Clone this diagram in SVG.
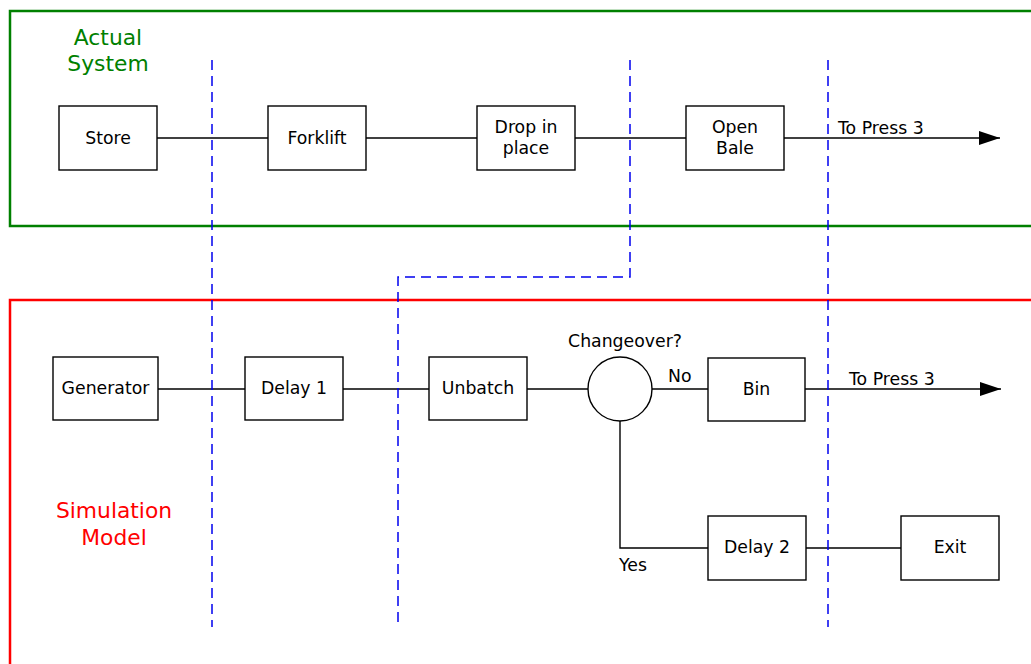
<svg xmlns="http://www.w3.org/2000/svg" width="1031" height="664" viewBox="0 0 1031 664">
<style>
.box{fill:#fff;stroke:#000;stroke-width:1.4}
.t{font-family:"DejaVu Sans",Verdana,sans-serif;font-size:17.3px;fill:#000;text-anchor:middle}
.l{font-family:"DejaVu Sans",Verdana,sans-serif;font-size:17.3px;fill:#000}
.c{stroke:#000;stroke-width:1.4;fill:none}
.d{stroke:#0000ee;stroke-width:1.5;fill:none;stroke-dasharray:10,6}
.big{font-family:"DejaVu Sans",Verdana,sans-serif;font-size:21.8px;text-anchor:middle}
</style>
<defs>
<marker id="ah" viewBox="0 0 21 14" refX="21" refY="7" markerWidth="21" markerHeight="14" markerUnits="userSpaceOnUse" orient="auto">
<path d="M0,0 L21,7 L0,14 z" fill="#000"/>
</marker>
</defs>
<rect width="1031" height="664" fill="#fff"/>
<g id="actual-system">
<rect x="10" y="11" width="1030" height="215" fill="none" stroke="#008000" stroke-width="2.5"/>
<text class="big" fill="#008000" x="108" y="45">Actual</text>
<text class="big" fill="#008000" x="108" y="71">System</text>
</g>
<g id="simulation-model">
<rect x="10" y="300" width="1030" height="380" fill="none" stroke="#ff0000" stroke-width="2.5"/>
<text class="big" fill="#ff0000" x="114" y="518">Simulation</text>
<text class="big" fill="#ff0000" x="114" y="545">Model</text>
</g>
<g id="connectors">
<line class="c" x1="157" y1="138" x2="268" y2="138"/>
<line class="c" x1="366" y1="138" x2="477" y2="138"/>
<line class="c" x1="575" y1="138" x2="686" y2="138"/>
<line class="c" x1="784" y1="138" x2="1000" y2="138" marker-end="url(#ah)"/>
<line class="c" x1="158" y1="389" x2="245" y2="389"/>
<line class="c" x1="343" y1="389" x2="429" y2="389"/>
<line class="c" x1="527" y1="389" x2="588" y2="389"/>
<line class="c" x1="652" y1="389" x2="708" y2="389"/>
<line class="c" x1="805" y1="389" x2="1001" y2="389" marker-end="url(#ah)"/>
<polyline class="c" points="620,421 620,548 708,548"/>
<line class="c" x1="806" y1="548" x2="901" y2="548"/>
<text class="l" x="838" y="134">To Press 3</text>
<text class="l" x="849" y="385">To Press 3</text>
<text class="l" x="668" y="382">No</text>
<text class="l" x="619" y="571">Yes</text>
</g>
<g id="dividers">
<line class="d" x1="212" y1="60" x2="212" y2="627"/>
<polyline class="d" points="630,60 630,277 398,277 398,627"/>
<line class="d" x1="828" y1="60" x2="828" y2="627"/>
</g>
<g id="store"><rect class="box" x="59" y="106" width="98" height="64"/><text class="t" x="108" y="144">Store</text></g>
<g id="forklift"><rect class="box" x="268" y="106" width="98" height="64"/><text class="t" x="317" y="144">Forklift</text></g>
<g id="drop-in-place"><rect class="box" x="477" y="106" width="98" height="64"/><text class="t" x="526" y="133">Drop in</text><text class="t" x="526" y="154">place</text></g>
<g id="open-bale"><rect class="box" x="686" y="106" width="98" height="64"/><text class="t" x="735" y="133">Open</text><text class="t" x="735" y="154">Bale</text></g>
<g id="generator"><rect class="box" x="53" y="357" width="105" height="63"/><text class="t" x="105.5" y="394">Generator</text></g>
<g id="delay1"><rect class="box" x="245" y="357" width="98" height="63"/><text class="t" x="294" y="394">Delay 1</text></g>
<g id="unbatch"><rect class="box" x="429" y="357" width="98" height="63"/><text class="t" x="478" y="394">Unbatch</text></g>
<g id="changeover"><circle class="box" cx="620" cy="389" r="32"/><text class="t" x="625" y="347">Changeover?</text></g>
<g id="bin"><rect class="box" x="708" y="358" width="97" height="63"/><text class="t" x="756.5" y="395">Bin</text></g>
<g id="delay2"><rect class="box" x="708" y="516" width="98" height="64"/><text class="t" x="757" y="553">Delay 2</text></g>
<g id="exit"><rect class="box" x="901" y="516" width="98" height="64"/><text class="t" x="950" y="553">Exit</text></g>
</svg>
